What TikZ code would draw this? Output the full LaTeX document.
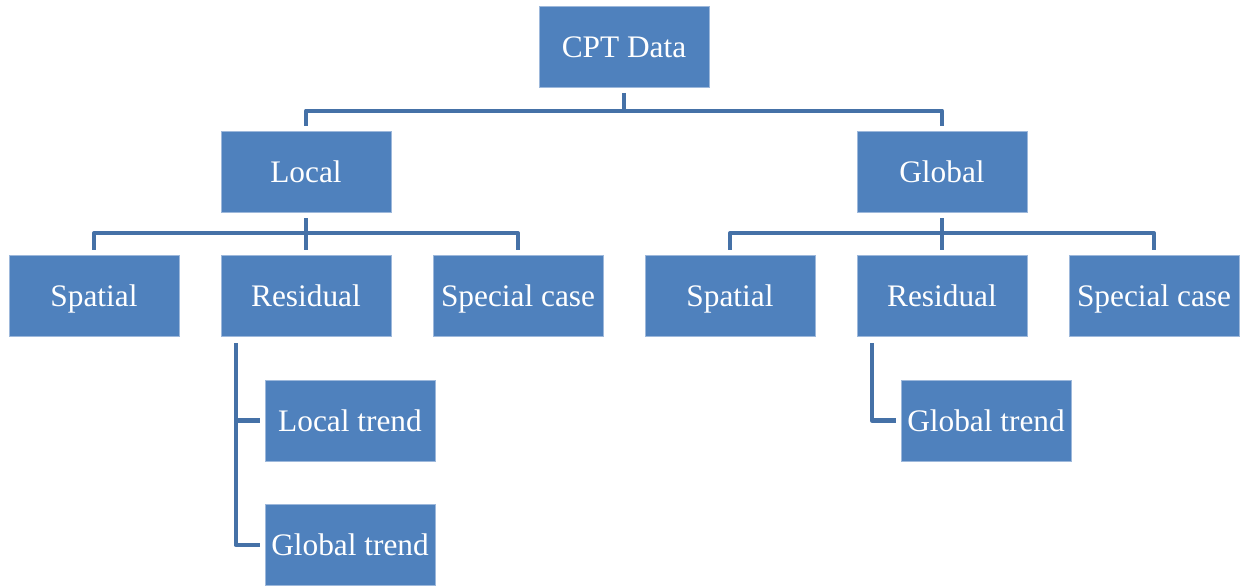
\documentclass[tikz,border=0pt]{standalone}
\usepackage{fontspec}
\setmainfont{Liberation Serif}
\usetikzlibrary{calc}
\definecolor{boxblue}{HTML}{4F81BD}
\definecolor{boxedge}{HTML}{9DB8DB}
\definecolor{linkblue}{HTML}{4571A7}
\tikzset{
  box/.style={fill=boxblue, draw=boxedge, line width=0.4pt, minimum width=127.5pt, minimum height=60.75pt, inner sep=0pt, text height=18pt, text depth=2pt, text=white, font=\fontsize{23.5pt}{26pt}\selectfont},
  conn/.style={draw=linkblue, line width=3.2pt, line join=round}
}
\begin{document}
\begin{tikzpicture}[x=0.75pt,y=-0.75pt]
\useasboundingbox (0,0) rectangle (1243,586);
\node[box] (cpt) at (624,47) {CPT Data};
\node[box] (local) at (306,171.5) {Local};
\node[box] (global) at (942,171.5) {Global};
\node[box] (lsp) at (94,295.5) {Spatial};
\node[box] (lres) at (306,295.5) {Residual};
\node[box] (lsc) at (518,295.5) {Special case};
\node[box] (gsp) at (730,295.5) {Spatial};
\node[box] (gres) at (942,295.5) {Residual};
\node[box] (gsc) at (1154,295.5) {Special case};
\node[box] (ltr) at (350,420.5) {Local trend};
\node[box] (lgtr) at (350,545) {Global trend};
\node[box] (ggtr) at (986,420.5) {Global trend};
% top level
\draw[conn] ($(cpt.south)+(0,5)$) -- ($(cpt.south)+(0,23)$);
\draw[conn] ($(local.north)+(0,-5)$) |- ($(cpt.south)+(0,23)$) -| ($(global.north)+(0,-5)$);
% local branch
\draw[conn] ($(local.south)+(0,6)$) -- ($(lres.north)+(0,-5)$);
\draw[conn] ($(lsp.north)+(0,-5)$) |- ($(local.south)+(0,21)$) -| ($(lsc.north)+(0,-5)$);
% global branch
\draw[conn] ($(global.south)+(0,6)$) -- ($(gres.north)+(0,-5)$);
\draw[conn] ($(gsp.north)+(0,-5)$) |- ($(global.south)+(0,21)$) -| ($(gsc.north)+(0,-5)$);
% residual children
\draw[conn] ($(lres.south west)+(15,7)$) |- ($(ltr.west)+(-5,0)$);
\draw[conn] ($(lres.south west)+(15,7)$) |- ($(lgtr.west)+(-5,0)$);
\draw[conn] ($(gres.south west)+(15,7)$) |- ($(ggtr.west)+(-5,0)$);
\end{tikzpicture}
\end{document}
